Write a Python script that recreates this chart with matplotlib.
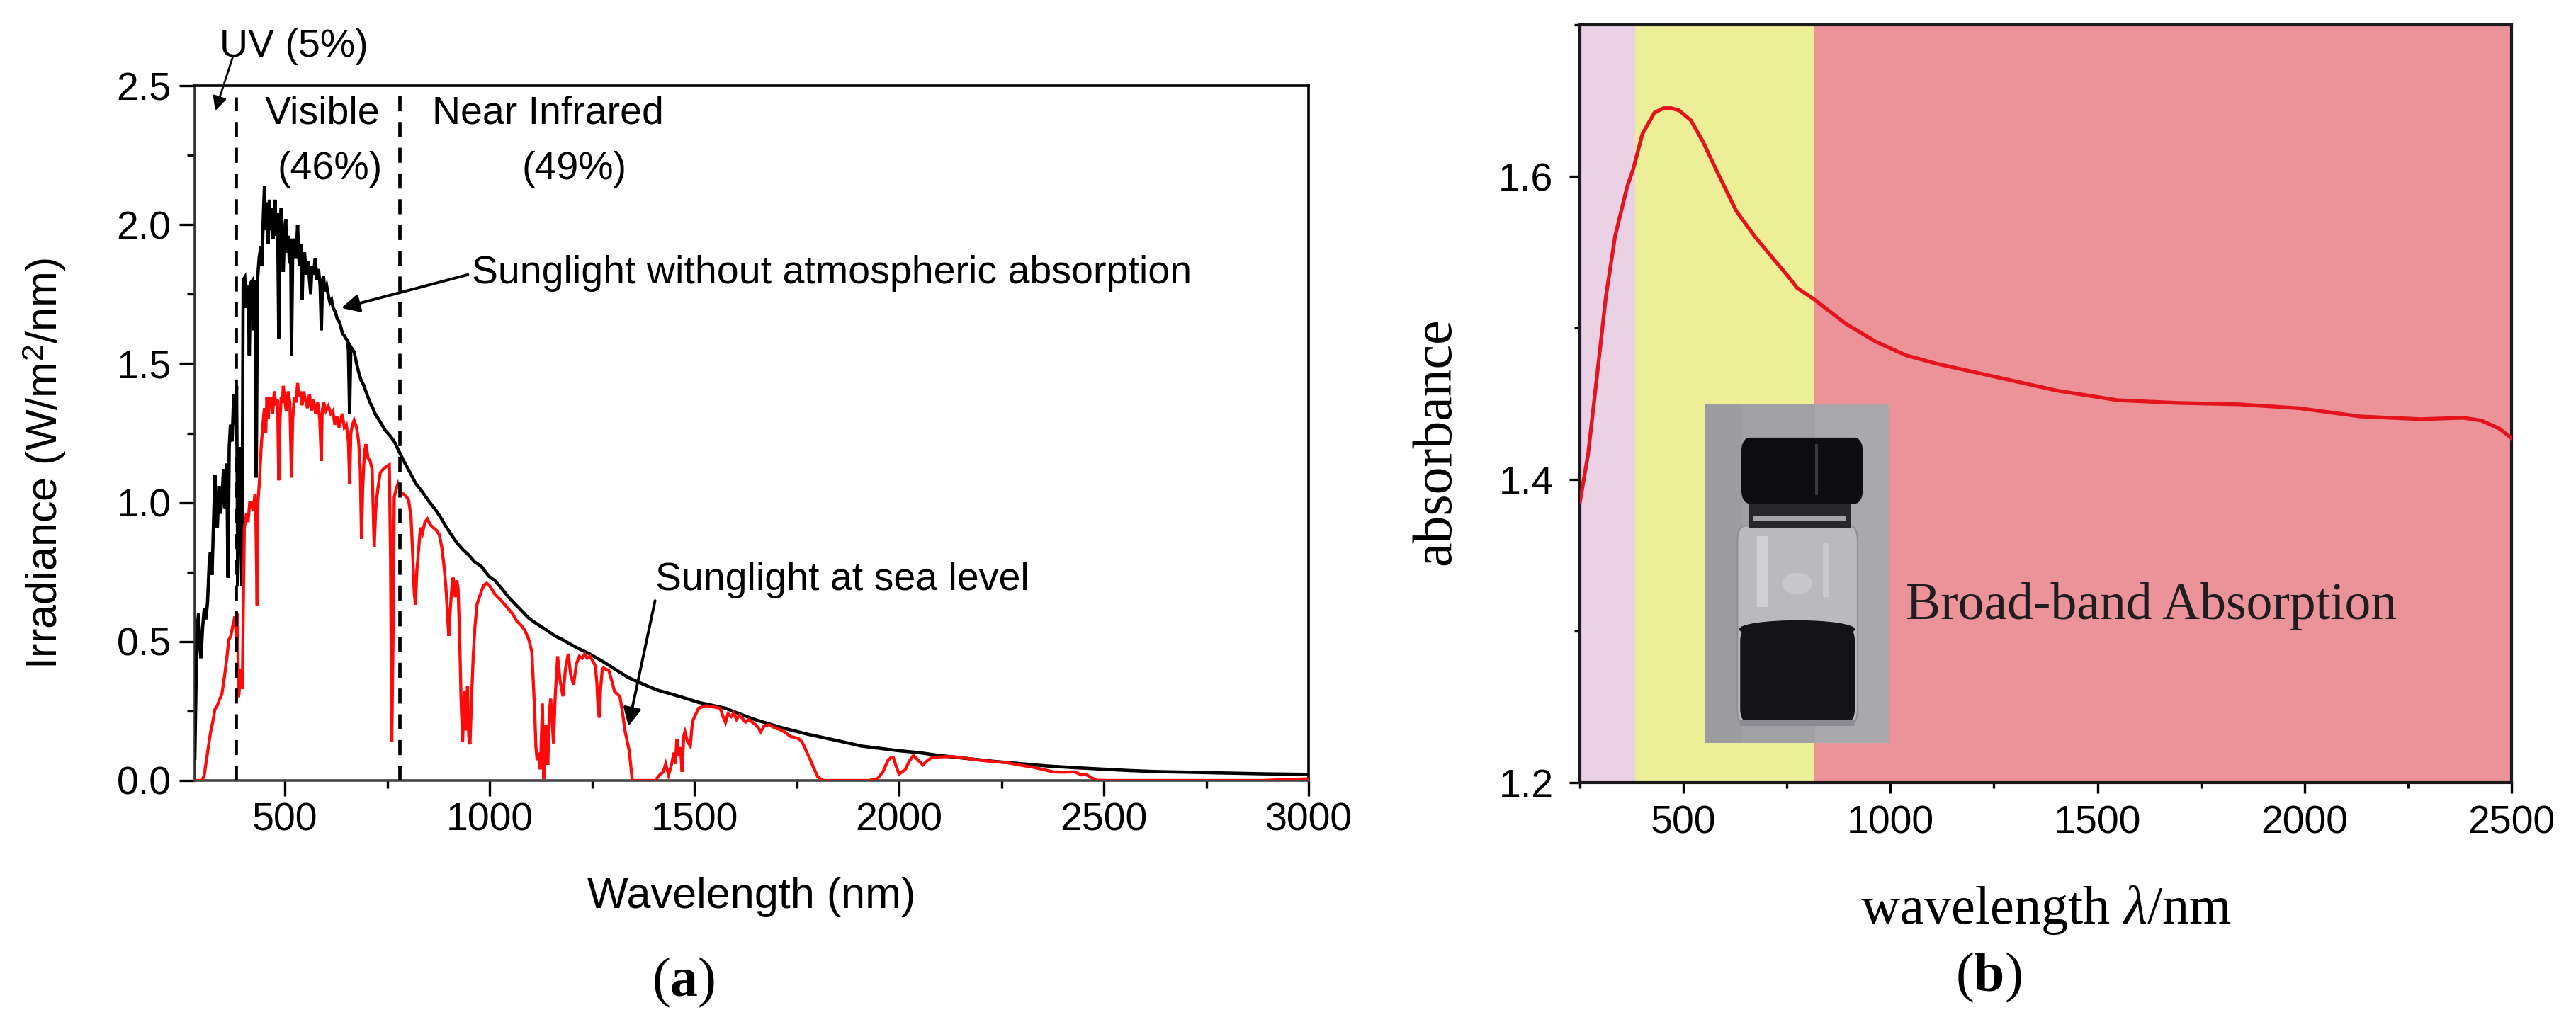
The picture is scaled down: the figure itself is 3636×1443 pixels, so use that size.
import matplotlib
matplotlib.use('Agg')
import matplotlib.pyplot as plt
from matplotlib.ticker import MultipleLocator, FormatStrFormatter
from matplotlib.patches import Rectangle, FancyBboxPatch, Ellipse

plt.rcParams['font.family'] = ['Liberation Sans', 'DejaVu Sans']
plt.rcParams['mathtext.fontset'] = 'custom'
plt.rcParams['mathtext.rm'] = 'Liberation Sans'
plt.rcParams['mathtext.it'] = 'Liberation Serif:italic'
plt.rcParams['mathtext.bf'] = 'Liberation Serif:bold'

# ---------------- data: panel (a) ----------------
# extraterrestrial spectrum (sunlight without atmospheric absorption)
am0_nm = [280, 283, 286, 289, 292, 295, 299, 303, 307, 311, 315, 318, 322, 326, 329, 332, 335, 339, 343, 346,
          350, 354, 358, 361, 364, 367, 371, 375, 379, 382, 385, 388, 391, 395,
          398, 402, 406, 410, 413, 416, 421, 424, 427, 430, 433, 437, 441, 444, 447, 450,
          453, 456, 459, 462, 465, 468, 471, 474, 476, 479, 482, 485, 488, 491, 494, 496, 499, 502, 505, 508,
          511, 514, 516, 519, 523, 527, 531, 535, 539, 542, 545, 548, 552, 556, 560, 563, 566, 570, 574, 578,
          582, 586, 589, 592, 594, 598, 602, 606, 610, 614, 618, 623, 628, 633, 637, 640, 645, 649, 652, 655,
          658, 661, 665, 669, 675, 680, 686, 692, 700, 708, 715, 720,
          733, 745, 757, 767, 780, 790, 805, 819, 835,
          854, 870, 883, 895, 906, 920, 935, 950, 963, 980, 998, 1013, 1030, 1046, 1062, 1080, 1095, 1113, 1140,
          1160, 1179, 1210, 1245, 1280, 1311, 1338, 1377, 1410, 1444, 1480, 1510, 1545, 1576, 1610, 1642, 1675,
          1708, 1740, 1775, 1810, 1841, 1875, 1907, 1940, 1973, 2000, 2050, 2098, 2160, 2230, 2300, 2363, 2430,
          2495, 2560, 2628, 2700, 2760, 2830, 2892, 2950, 3000]
am0_irr = [0.08, 0.35, 0.55, 0.60, 0.48, 0.44, 0.55, 0.62, 0.58, 0.64, 0.78, 0.82, 0.74, 0.95, 1.10, 0.98, 0.91, 1.06, 0.96, 1.01,
           1.12, 0.98, 1.14, 0.73, 1.20, 1.28, 1.22, 1.39, 1.28, 1.42, 0.70, 1.20, 1.05, 0.70,
           1.80, 1.81, 1.70, 1.78, 1.53, 1.79, 1.80, 1.62, 1.80, 1.09, 1.80, 1.88, 1.92, 1.85, 2.02, 2.14,
           1.98, 2.08, 1.93, 2.09, 1.98, 2.06, 1.95, 2.05, 2.09, 1.96, 2.04, 1.59, 2.00, 2.06, 1.92, 1.83, 1.98, 2.02, 1.90, 1.96,
           1.86, 1.95, 1.53, 1.90, 1.95, 1.88, 2.00, 1.85, 1.93, 1.73, 1.88, 1.90, 1.82, 1.87, 1.80, 1.75, 1.85, 1.82, 1.88, 1.80,
           1.84, 1.78, 1.62, 1.80, 1.815, 1.76, 1.78, 1.746, 1.72, 1.73, 1.70, 1.687, 1.66, 1.65, 1.63, 1.61, 1.60, 1.59, 1.585, 1.55,
           1.32, 1.56, 1.55, 1.543, 1.50, 1.47, 1.44, 1.424, 1.39, 1.36, 1.339, 1.32,
           1.29, 1.26, 1.24, 1.22, 1.18, 1.15, 1.11, 1.07, 1.04,
           1.00, 0.97, 0.94, 0.91, 0.885, 0.855, 0.83, 0.81, 0.787, 0.77, 0.735, 0.719, 0.69, 0.66, 0.635, 0.608, 0.585, 0.566, 0.54,
           0.52, 0.506, 0.48, 0.455, 0.425, 0.396, 0.371, 0.345, 0.325, 0.311, 0.295, 0.281, 0.27, 0.26, 0.24, 0.222, 0.207,
           0.192, 0.18, 0.167, 0.156, 0.146, 0.135, 0.124, 0.118, 0.112, 0.107, 0.10, 0.09, 0.08, 0.069, 0.06, 0.052, 0.046,
           0.041, 0.036, 0.032, 0.03, 0.028, 0.026, 0.024, 0.023, 0.022]

# spectrum at sea level
am15_nm = [280, 298, 303, 310, 318, 325, 329, 335, 340, 346, 352, 358, 363, 368, 373, 378, 382, 384, 387, 390,
           393, 396, 399,
           401, 406, 410, 414, 418, 422, 427, 429, 432, 434, 438, 442, 446, 450, 453, 456, 459, 462,
           466, 470, 474, 478, 482, 485, 488, 491, 494, 496, 499, 503, 508, 512, 516, 519, 523, 527, 531, 534,
           538, 542, 546, 550, 555, 560, 565, 570, 575, 580, 585, 589, 591, 595, 600, 606, 612, 617, 622, 627,
           632, 637, 640, 645, 650, 655, 658, 661, 665, 669, 675, 680, 684, 687, 690, 694, 698,
           703, 708, 713, 718, 722,
           727, 733, 740, 748, 755, 758, 761, 764, 767, 772, 776, 782, 790, 797, 802, 808, 813, 816, 819, 822,
           826, 831, 836, 842, 848, 855, 862, 870, 877, 883, 888, 893, 897, 900, 904, 908, 911, 916, 920, 923,
           927, 930, 934, 938, 942, 946, 949, 952, 956, 960, 964, 969, 975, 982, 986, 993, 1000, 1007, 1013, 1020,
           1033, 1046, 1056, 1066, 1076, 1086, 1095, 1103, 1106, 1110, 1113, 1116, 1120, 1124, 1129, 1132, 1135,
           1138, 1142, 1146, 1149, 1153, 1156, 1160, 1166, 1172, 1179, 1185, 1192, 1198, 1205, 1212, 1219, 1226,
           1232, 1238, 1245, 1252, 1258, 1262, 1265, 1268, 1271, 1275, 1278, 1284, 1291, 1298, 1305, 1312, 1318,
           1324, 1331, 1336, 1341, 1345, 1348, 1351, 1404, 1410, 1417, 1424, 1430, 1437, 1444, 1450, 1454, 1457,
           1462, 1466, 1470, 1474, 1477, 1483, 1490, 1494, 1497, 1504, 1510, 1520, 1530, 1545, 1556, 1563, 1570,
           1576, 1582, 1590, 1596, 1603, 1610, 1616, 1625, 1633, 1642, 1650, 1656, 1662, 1670, 1682, 1695, 1708,
           1720, 1735, 1745, 1755, 1762, 1768, 1775, 1781, 1790, 1801, 1814, 1927, 1947, 1960, 1973, 1980, 1986,
           1993, 2000, 2006, 2015, 2025, 2035, 2045, 2058, 2068, 2078, 2100, 2131, 2165, 2197, 2230, 2264, 2297,
           2330, 2350, 2376, 2400, 2429, 2445, 2456, 2470, 2482, 2508, 2890, 2950, 3000]
am15_irr = [0.0, 0.0, 0.02, 0.09, 0.17, 0.22, 0.256, 0.27, 0.29, 0.31, 0.37, 0.44, 0.507, 0.52, 0.56, 0.59, 0.50, 0.60, 0.30, 0.35,
            0.40, 0.33, 0.70,
            0.91, 0.96, 0.93, 1.00, 1.00, 0.97, 1.03, 0.95, 0.63, 1.00, 1.08, 1.20, 1.28, 1.34, 1.25, 1.38, 1.30, 1.36,
            1.38, 1.32, 1.40, 1.35, 1.37, 1.08, 1.30, 1.38, 1.36, 1.42, 1.38, 1.33, 1.40, 1.36, 1.09, 1.30, 1.38, 1.36, 1.43, 1.38,
            1.40, 1.35, 1.40, 1.37, 1.34, 1.39, 1.33, 1.37, 1.32, 1.36, 1.30, 1.15, 1.33, 1.36, 1.33, 1.347, 1.32, 1.33, 1.28, 1.31,
            1.27, 1.30, 1.32, 1.27, 1.28, 1.22, 1.067, 1.25, 1.28, 1.296, 1.27, 1.22, 1.12, 0.87, 1.05, 1.18, 1.21,
            1.16, 1.15, 1.12, 0.84, 0.98,
            1.05, 1.108, 1.12, 1.13, 1.136, 0.80, 0.14, 0.50, 1.02, 1.05, 1.067, 1.04, 1.03, 1.02, 1.01, 0.95, 0.78, 0.67, 0.633, 0.75,
            0.82, 0.91, 0.89, 0.93, 0.941, 0.92, 0.91, 0.90, 0.885, 0.84, 0.78, 0.70, 0.60, 0.52, 0.62, 0.70, 0.73, 0.66, 0.72, 0.689,
            0.50, 0.30, 0.14, 0.32, 0.18, 0.34, 0.16, 0.13, 0.30, 0.45, 0.55, 0.633, 0.66, 0.69, 0.703, 0.71, 0.70, 0.685, 0.67, 0.66,
            0.64, 0.617, 0.60, 0.574, 0.56, 0.54, 0.51, 0.464, 0.37, 0.25, 0.12, 0.073, 0.10, 0.04, 0.277, 0.005, 0.12,
            0.20, 0.056, 0.25, 0.294, 0.20, 0.133, 0.30, 0.447, 0.36, 0.303, 0.40, 0.456, 0.38, 0.345, 0.42, 0.447, 0.44,
            0.455, 0.44, 0.447, 0.43, 0.413, 0.35, 0.25, 0.226, 0.33, 0.40, 0.405, 0.40, 0.396, 0.36, 0.32, 0.31, 0.303,
            0.25, 0.175, 0.14, 0.107, 0.05, 0.005, 0.0, 0.0, 0.01, 0.023, 0.03, 0.06, 0.02, 0.056, 0.10, 0.06, 0.15,
            0.09, 0.12, 0.031, 0.16, 0.175, 0.14, 0.124, 0.19, 0.218, 0.24, 0.26, 0.265, 0.269, 0.265, 0.262, 0.26, 0.23,
            0.209, 0.24, 0.23, 0.243, 0.22, 0.235, 0.226, 0.21, 0.22, 0.209, 0.20, 0.19, 0.175, 0.195, 0.201, 0.19, 0.184,
            0.175, 0.158, 0.155, 0.15, 0.14, 0.124, 0.10, 0.082, 0.05, 0.014, 0.0, 0.0, 0.006, 0.03, 0.073, 0.082, 0.082,
            0.05, 0.023, 0.03, 0.039, 0.07, 0.09, 0.075, 0.056, 0.07, 0.081, 0.085, 0.086, 0.08, 0.073, 0.068, 0.064, 0.055,
            0.047, 0.04, 0.031, 0.03, 0.031, 0.02, 0.022, 0.01, 0.001, 0.0, 0.0, 0.004, 0.006]

region_bounds_a = [380, 780]            # dashed separators (nm)
region_tops_a = [2.46, 2.48]
a_xticks = [500, 1000, 1500, 2000, 2500, 3000]
a_yticks = [0.0, 0.5, 1.0, 1.5, 2.0, 2.5]

# ---------------- data: panel (b) ----------------
abs_nm = [250, 270, 291, 313, 335, 364, 379, 401, 430, 452, 470, 489, 518, 547, 584, 628, 672, 716, 759, 774,
          815, 891, 964, 1037, 1110, 1257, 1403, 1549, 1696, 1842, 1988, 2134, 2281, 2383, 2427, 2471, 2500]
abs_val = [1.385, 1.417, 1.4675, 1.521, 1.5605, 1.593, 1.605, 1.628, 1.642, 1.645, 1.645, 1.6436, 1.637, 1.623,
           1.6016, 1.577, 1.5605, 1.546, 1.532, 1.5265, 1.519, 1.503, 1.491, 1.482, 1.4765, 1.4675, 1.4586, 1.4523,
           1.4505, 1.4496, 1.447, 1.4416, 1.4398, 1.4407, 1.4389, 1.4335, 1.4273]
band_edges_b = [250, 383, 815, 2500]     # UV / visible / NIR shading
band_colors_b = ['#ead1e6', '#edef98', '#ec9299']
b_xticks = [500, 1000, 1500, 2000, 2500]
b_yticks = [1.2, 1.4, 1.6]

assert len(am0_nm) == len(am0_irr)
assert len(am15_nm) == len(am15_irr)
assert len(abs_nm) == len(abs_val)

# ---------------- figure ----------------
W, H = 3636, 1443
DPI = 100
fig = plt.figure(figsize=(W / DPI, H / DPI), dpi=DPI)
fig.patch.set_facecolor('white')


def fx(px):
    return px / W


def fy(py):
    return 1 - py / H


TICK_FS = 40
LABEL_FS = 44

# ---- panel (a) ----
axa = fig.add_axes([fx(275), fy(1102), fx(1847) - fx(275), fy(121) - fy(1102)])
axa.plot(am0_nm, am0_irr, color='black', lw=3.3, zorder=3, solid_joinstyle='miter')
axa.plot(am15_nm, am15_irr, color='#ff0a0a', lw=3.1, zorder=4, solid_joinstyle='miter')
for xb, ytop in zip(region_bounds_a, region_tops_a):
    axa.plot([xb, xb], [0, ytop], color='black', lw=3.4, linestyle=(0, (4.5, 3.2)), zorder=5)
axa.set_xlim(280, 3000)
axa.set_ylim(0, 2.5)
axa.set_xticks(a_xticks)
axa.set_yticks(a_yticks)
axa.xaxis.set_minor_locator(MultipleLocator(250))
axa.yaxis.set_minor_locator(MultipleLocator(0.25))
axa.yaxis.set_major_formatter(FormatStrFormatter('%.1f'))
axa.tick_params(which='both', direction='out', width=2.4, labelsize=TICK_FS, top=False, right=False)
axa.tick_params(which='major', length=16)
axa.tick_params(which='minor', length=8)
axa.tick_params(axis='x', pad=6)
axa.tick_params(axis='y', pad=8)
for sp in axa.spines.values():
    sp.set_linewidth(2.6)
axa.spines['bottom'].set_color('#444444')
axa.spines['left'].set_color('#333333')

# annotations panel (a)
axa.text(340, 2.64, 'UV (5%)', fontsize=40, ha='left', va='center', clip_on=False)
axa.annotate('', xy=(330, 2.41), xytext=(372, 2.60), annotation_clip=False,
             arrowprops=dict(arrowstyle='-|>', lw=2.0, color='black', mutation_scale=30,
                             shrinkA=0, shrinkB=0))
axa.text(591, 2.40, 'Visible', fontsize=40, ha='center', va='center')
axa.text(609, 2.20, '(46%)', fontsize=40, ha='center', va='center')
axa.text(1142, 2.40, 'Near Infrared', fontsize=40, ha='center', va='center')
axa.text(1207, 2.20, '(49%)', fontsize=40, ha='center', va='center')
axa.text(956, 1.79, 'Sunglight without atmospheric absorption', fontsize=40, ha='left', va='baseline')
axa.annotate('', xy=(638, 1.70), xytext=(947, 1.82),
             arrowprops=dict(arrowstyle='-|>', lw=2.8, color='black', mutation_scale=38,
                             shrinkA=0, shrinkB=0))
axa.text(1404, 0.685, 'Sunglight at sea level', fontsize=40, ha='left', va='baseline')
axa.annotate('', xy=(1339, 0.196), xytext=(1404, 0.647),
             arrowprops=dict(arrowstyle='-|>', lw=2.8, color='black', mutation_scale=38,
                             shrinkA=0, shrinkB=0))

fig.text(fx(63), fy(655), 'Irradiance (W/m$^{2}$/nm)', fontsize=LABEL_FS, rotation=90,
         ha='center', va='center')
fig.text(fx(1061), fy(1282), 'Wavelength (nm)', fontsize=LABEL_FS, ha='center', va='baseline')
fig.text(fx(965), fy(1387), r'($\mathbf{a}$)', fontsize=56, ha='center', va='center',
         family='Liberation Serif')

# ---- panel (b) ----
axb = fig.add_axes([fx(2230), fy(1105), fx(3545) - fx(2230), fy(35) - fy(1105)])
for x0, x1, c in zip(band_edges_b[:-1], band_edges_b[1:], band_colors_b):
    axb.axvspan(x0, x1, color=c, lw=0, zorder=0)
axb.plot(abs_nm, abs_val, color='#e3141c', lw=3.8, zorder=3)
axb.set_xlim(250, 2500)
axb.set_ylim(1.2, 1.7)
axb.set_xticks(b_xticks)
axb.set_yticks(b_yticks)
axb.xaxis.set_minor_locator(MultipleLocator(250))
axb.yaxis.set_minor_locator(MultipleLocator(0.1))
axb.yaxis.set_major_formatter(FormatStrFormatter('%.1f'))
axb.tick_params(which='both', direction='out', width=2.4, labelsize=TICK_FS, top=False, right=False)
axb.tick_params(which='major', length=11)
axb.tick_params(which='minor', length=6)
axb.tick_params(axis='x', pad=12)
axb.tick_params(axis='y', pad=16)
for sp in axb.spines.values():
    sp.set_linewidth(3.0)
    sp.set_color('#1a1a1a')

fig.text(fx(2690), fy(874), 'Broad-band Absorption', fontsize=53, family='Liberation Serif',
         color='#1e1e1e', ha='left', va='baseline')
fig.text(fx(2028), fy(623), 'absorbance', fontsize=56, family='Liberation Serif', rotation=90,
         ha='center', va='center')
fig.text(fx(2888), fy(1304), r'wavelength $\lambda$/nm', fontsize=55, family='Liberation Serif',
         ha='center', va='baseline')
fig.text(fx(2807), fy(1380), r'($\mathbf{b}$)', fontsize=56, ha='center', va='center',
         family='Liberation Serif')

# ---- inset photograph of the vial (drawn) ----
axi = fig.add_axes([fx(2407), fy(1049), fx(2666) - fx(2407), fy(570) - fy(1049)])
axi.set_xlim(0, 1)
axi.set_ylim(0, 1)
axi.axis('off')
axi.add_patch(Rectangle((0, 0), 1, 1, color='#a0a0a5', zorder=0, lw=0))
axi.add_patch(Rectangle((0.0, 0), 0.2, 1, color='#9c9ca1', zorder=0.3, lw=0))
axi.add_patch(Rectangle((0.6, 0), 0.4, 1, color='#a8a8ad', zorder=0.3, lw=0))
# glass body
axi.add_patch(FancyBboxPatch((0.175, 0.055), 0.655, 0.585, boxstyle='round,pad=0,rounding_size=0.045',
                             fc='#b9b9be', ec='#8e8e94', lw=1.5, zorder=1))
axi.add_patch(Rectangle((0.28, 0.40), 0.06, 0.21, color='#cfcfd3', zorder=1.5, lw=0))
axi.add_patch(Rectangle((0.64, 0.43), 0.035, 0.16, color='#cacace', zorder=1.5, lw=0))
axi.add_patch(Ellipse((0.50, 0.47), 0.16, 0.06, color='#c8c8cc', zorder=1.5))
# powder
axi.add_patch(FancyBboxPatch((0.19, 0.065), 0.625, 0.27, boxstyle='round,pad=0,rounding_size=0.035',
                             fc='#141417', ec='none', zorder=2))
axi.add_patch(Ellipse((0.50, 0.335), 0.625, 0.05, color='#141417', zorder=2))
axi.add_patch(Rectangle((0.19, 0.05), 0.625, 0.018, color='#8c8c92', zorder=2.1, lw=0))
# neck / thread ring
axi.add_patch(Rectangle((0.24, 0.635), 0.55, 0.07, color='#28282c', zorder=2, lw=0))
axi.add_patch(Rectangle((0.26, 0.655), 0.51, 0.014, color='#a4a4aa', zorder=2.2, lw=0))
# cap
axi.add_patch(FancyBboxPatch((0.195, 0.705), 0.665, 0.195, boxstyle='round,pad=0,rounding_size=0.05',
                             fc='#0d0d0f', ec='none', zorder=3))
axi.add_patch(Rectangle((0.60, 0.73), 0.012, 0.15, color='#3a3a3a', zorder=3.2, lw=0))

fig.savefig('out.png', dpi=DPI, facecolor='white')
